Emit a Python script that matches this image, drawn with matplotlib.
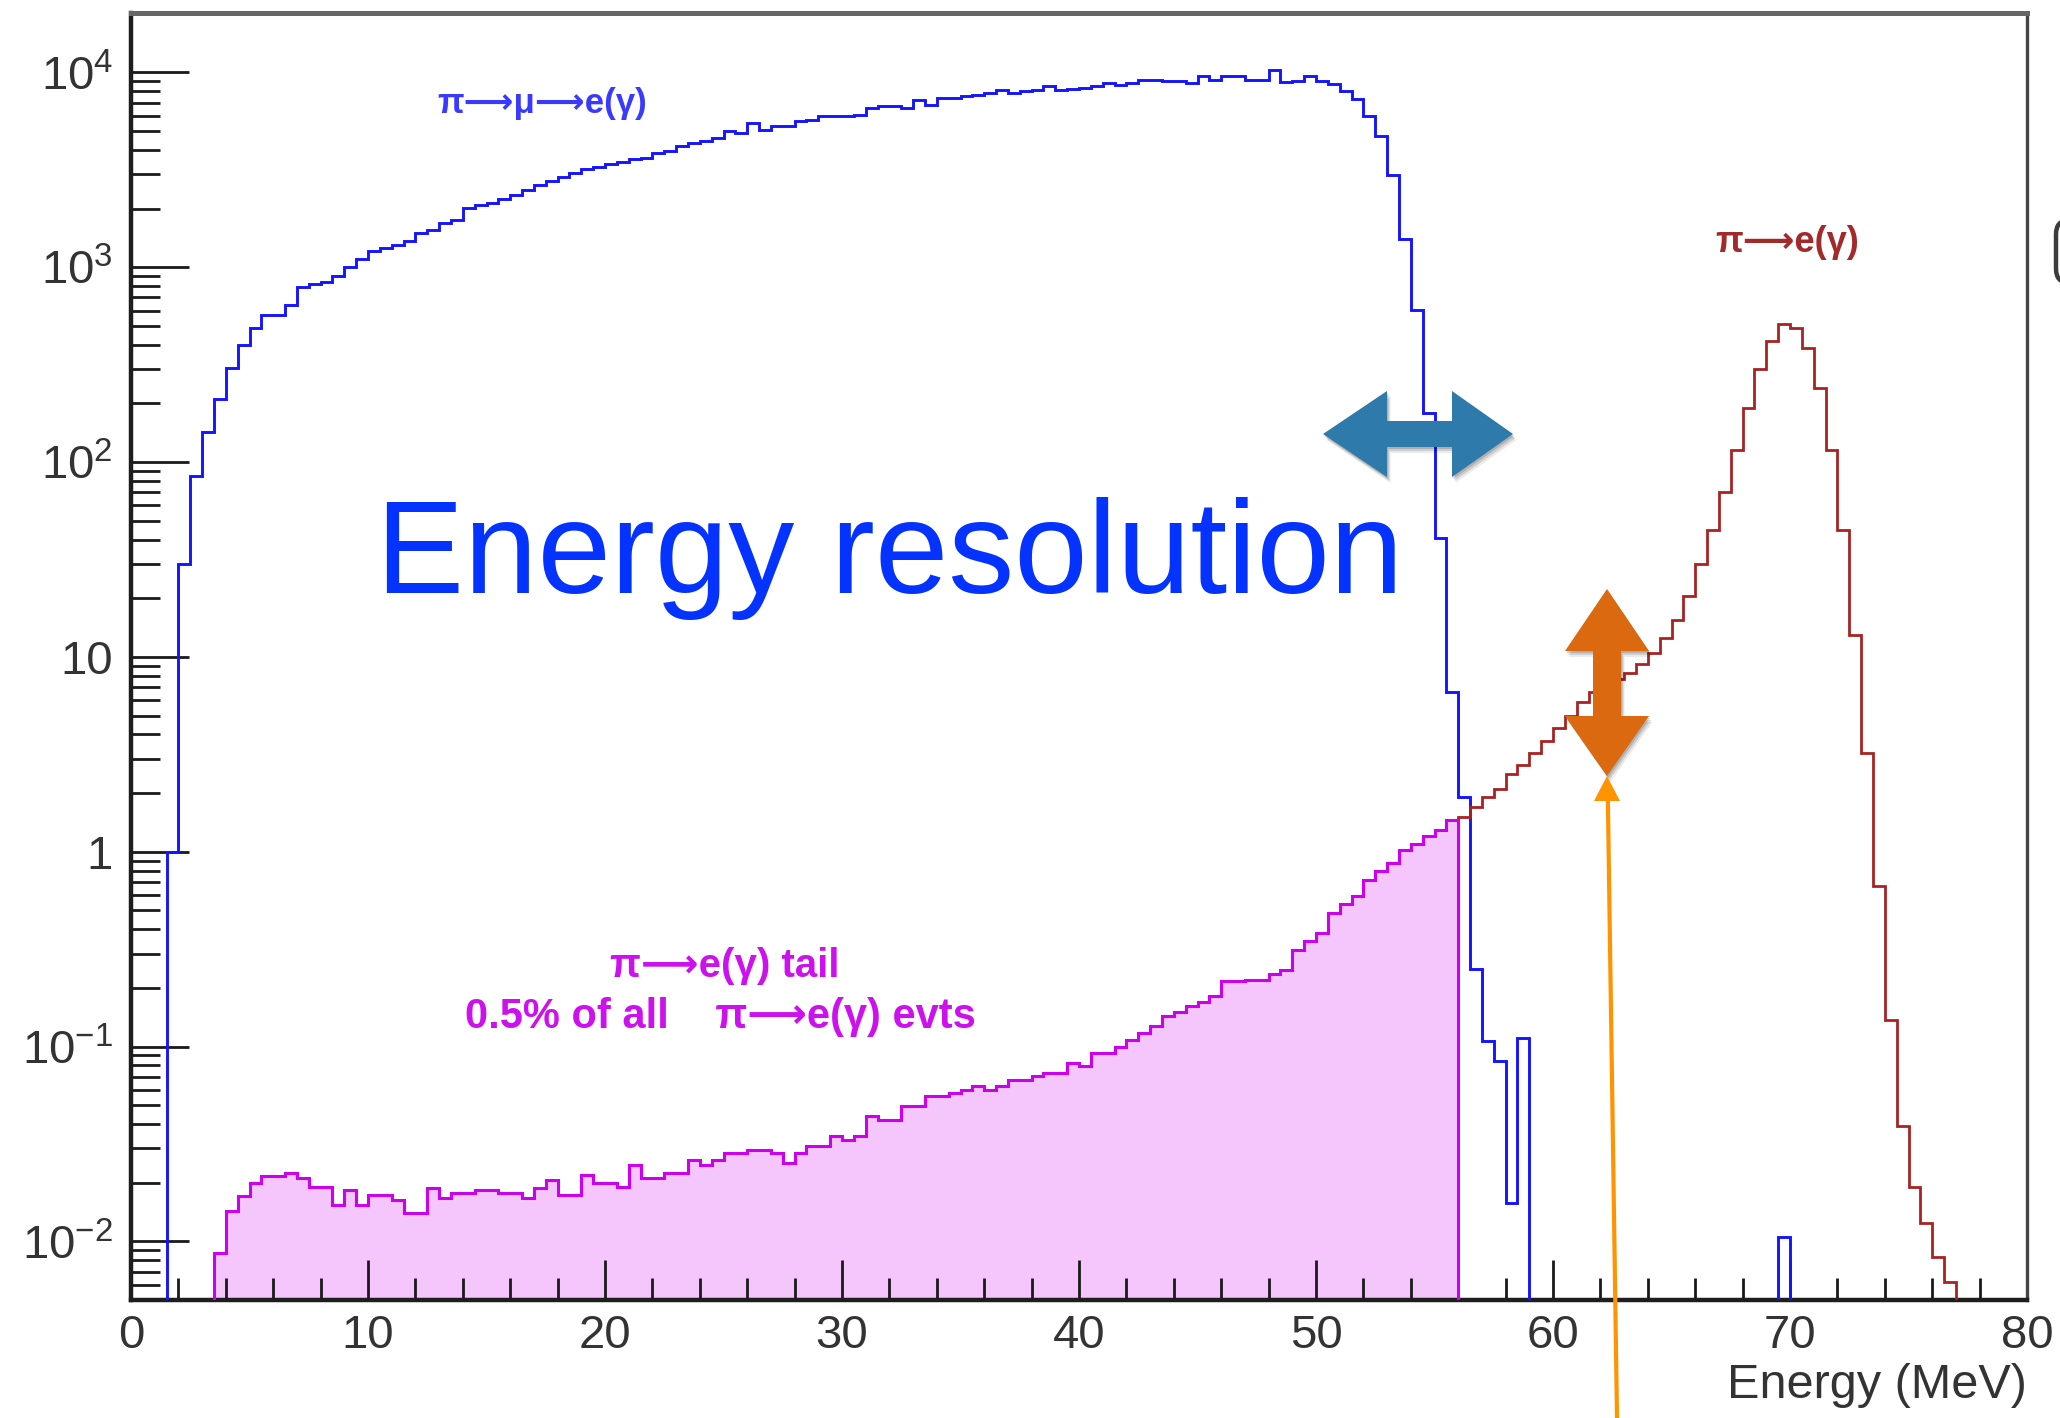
import numpy as np
import matplotlib.pyplot as plt
from matplotlib.patches import Polygon, FancyBboxPatch
from matplotlib.lines import Line2D
from matplotlib.ticker import MultipleLocator, LogLocator, NullFormatter
from matplotlib.transforms import IdentityTransform

plt.rcParams['font.family'] = ['Liberation Sans', 'DejaVu Sans']
plt.rcParams['mathtext.fontset'] = 'custom'
plt.rcParams['mathtext.rm'] = 'Liberation Sans'
plt.rcParams['mathtext.it'] = 'Liberation Sans:italic'
plt.rcParams['mathtext.bf'] = 'Liberation Sans:bold'

W, H = 2060, 1418
BIN = 0.5  # MeV per bin

# pi -> mu -> e(gamma), 0.5 MeV bins starting at 1.5 MeV
mu_start = 1.5
mu_counts = [1.0, 30, 85, 143, 211, 303, 397, 490, 570, 570,
             643, 795, 820, 845, 897, 1000, 1100, 1213, 1250, 1300,
             1368, 1497, 1550, 1689, 1750, 2023, 2080, 2150, 2250, 2353,
             2500, 2654, 2780, 2904, 3050, 3183, 3280, 3380, 3480, 3590,
             3640, 3860, 3940, 4180, 4350, 4430, 4610, 4990, 4890, 5500,
             5090, 5290, 5330, 5610, 5720, 5960, 5960, 5960, 6070, 6570,
             6700, 6700, 6570, 7250, 6840, 7390, 7390, 7540, 7690, 7850,
             8160, 7850, 8000, 8160, 8490, 8160, 8230, 8320, 8490, 8830,
             8650, 8830, 9190, 9190, 9000, 9000, 8830, 9550, 9190, 9630,
             9550, 9190, 9190, 10330, 8900, 9000, 9550, 9000, 8700, 8000,
             7300, 6000, 4700, 2990, 1390, 606, 179, 41, 6.6, 1.9,
             0.25, 0.107, 0.084, 0.0158, 0.111]
# lone entry near 70 MeV
mu_stray_start = 69.5
mu_stray_counts = [0.0105]

# pi -> e(gamma) peak
e_start = 56.0
e_counts = [1.5, 1.7, 1.9, 2.1, 2.5, 2.8, 3.2, 3.7, 4.3, 5.0,
            5.9, 6.6, 7.2, 7.7, 8.3, 9.2, 10.5, 12.5, 15.5, 20.5,
            30, 45, 70, 115, 190, 300, 420, 511, 490, 387,
            239, 116, 44.7, 12.9, 3.2, 0.67, 0.137, 0.039, 0.019, 0.0124,
            0.0083, 0.0062]

# pi -> e(gamma) low energy tail
tail_start = 3.5
tail_counts = [0.0087, 0.0143, 0.0170, 0.0199, 0.0216, 0.0216, 0.0224, 0.0211, 0.0191, 0.0191,
               0.0154, 0.0184, 0.0154, 0.0173, 0.0173, 0.0164, 0.0140, 0.0140, 0.0188, 0.0167,
               0.0177, 0.0177, 0.0184, 0.0184, 0.0177, 0.0177, 0.0167, 0.0188, 0.0207, 0.0173,
               0.0173, 0.0220, 0.0199, 0.0199, 0.0191, 0.0247, 0.0211, 0.0211, 0.0224, 0.0224,
               0.0262, 0.0247, 0.0262, 0.0284, 0.0284, 0.0295, 0.0295, 0.0284, 0.0252, 0.0284,
               0.0307, 0.0307, 0.0346, 0.0333, 0.0346, 0.0438, 0.0421, 0.0421, 0.0493, 0.0493,
               0.0555, 0.0555, 0.0577, 0.0600, 0.0624, 0.0600, 0.0624, 0.0675, 0.0675, 0.0703,
               0.0731, 0.0731, 0.0823, 0.0791, 0.0925, 0.0925, 0.100, 0.108, 0.118, 0.127,
               0.143, 0.150, 0.161, 0.170, 0.181, 0.216, 0.216, 0.220, 0.220, 0.235,
               0.248, 0.314, 0.35, 0.382, 0.484, 0.54, 0.590, 0.718, 0.80, 0.875,
               1.02, 1.10, 1.20, 1.30, 1.46]

xticks = [0, 10, 20, 30, 40, 50, 60, 70, 80]
yticks = [1e-2, 1e-1, 1, 10, 1e2, 1e3, 1e4]
ytick_labels = [r'$10^{-2}$', r'$10^{-1}$', '1', '10', r'$10^{2}$', r'$10^{3}$', r'$10^{4}$']


def edges(start, counts):
    return start + BIN * np.arange(len(counts) + 1)


def fx(x):
    return x / W


def fy(y):
    return 1 - y / H


def px(pts):
    # pixel coords measured from top-left -> display coords
    return [(x, H - y) for x, y in pts]


fig = plt.figure(figsize=(W / 100, H / 100), dpi=100)
ax = fig.add_axes([fx(131), fy(1300), (2027 - 131) / W, (1300 - 13) / H])
ax.set_yscale('log')
ax.set_xlim(0, 80)
ax.set_ylim(5e-3, 2.02e4)

floor = 1e-4
ax.stairs(tail_counts, edges(tail_start, tail_counts), baseline=floor, fill=True,
          color='#f4c6fb', zorder=1)
ax.stairs(mu_counts, edges(mu_start, mu_counts), baseline=floor,
          color='#1414ff', lw=2.1, zorder=4)
ax.stairs(mu_stray_counts, edges(mu_stray_start, mu_stray_counts), baseline=floor,
          color='#1414ff', lw=2.1, zorder=4)
ax.stairs(e_counts, edges(e_start, e_counts), baseline=floor,
          color='#a82222', lw=2.0, zorder=4)
ax.stairs(tail_counts, edges(tail_start, tail_counts), baseline=floor,
          color='#cc00ee', lw=2.2, zorder=5)

# axes frame, ROOT look
ax.set_xticks(xticks)
ax.xaxis.set_minor_locator(MultipleLocator(2))
ax.set_yticks(yticks)
ax.set_yticklabels(ytick_labels)
ax.yaxis.set_minor_locator(LogLocator(base=10, subs=np.arange(2, 10), numticks=30))
ax.yaxis.set_minor_formatter(NullFormatter())
ax.tick_params(axis='both', which='both', direction='in', color='#1a1a1a',
               labelcolor='#333333', labelsize=34, top=False, right=False, width=2.0)
ax.tick_params(axis='x', which='major', length=29, pad=10)
ax.tick_params(axis='x', which='minor', length=16)
ax.tick_params(axis='y', which='major', length=42, pad=13)
ax.tick_params(axis='y', which='minor', length=21)
for s in ['left', 'bottom']:
    ax.spines[s].set_linewidth(3.2)
    ax.spines[s].set_color('#1e1e1e')
ax.spines['right'].set_linewidth(2.4)
ax.spines['right'].set_color('#444444')
ax.spines['top'].set_linewidth(3.6)
ax.spines['top'].set_color('#666666')

ax.set_xlabel('Energy (MeV)', fontsize=35, color='#333333', loc='right')
ax.xaxis.set_label_coords(1.0, -0.049)

# labels inside the plot
fam = ['Liberation Sans', 'DejaVu Sans']
fig.text(fx(542), fy(103), 'π⟶μ⟶e(γ)', color='#3a3aff', fontsize=25, family=fam,
         fontweight='bold', ha='center', va='center')
fig.text(fx(1787), fy(243), 'π⟶e(γ)', color='#a32a2a', fontsize=26, family=fam,
         fontweight='bold', ha='center', va='center')
fig.text(fx(725), fy(966), 'π⟶e(γ) tail', color='#cc11ee', fontsize=29, family=fam,
         fontweight='bold', ha='center', va='center')
fig.text(fx(720), fy(1017), '0.5% of all    π⟶e(γ) evts', color='#cc11ee', fontsize=30,
         family=fam, fontweight='bold', ha='center', va='center')
fig.text(fx(376), fy(593), 'Energy resolution', color='#0433ff', fontsize=95,
         ha='left', va='baseline')

# block arrows (slide overlay)
ident = IdentityTransform()
h_arrow = [(1323, 434), (1387, 391), (1387, 421), (1452, 421), (1452, 391), (1513, 434),
           (1452, 477), (1452, 447), (1387, 447), (1387, 477)]
v_arrow = [(1607, 589), (1649, 651), (1621, 651), (1621, 716), (1649, 716), (1607, 776),
           (1565, 716), (1593, 716), (1593, 651), (1565, 651)]
for pts, col in [(h_arrow, '#2e7aab'), (v_arrow, '#da6910')]:
    for d, a in [(6, 0.08), (4, 0.12), (2, 0.15)]:
        shadow = [(x + d * 0.6, y + d) for x, y in pts]
        fig.add_artist(Polygon(px(shadow), closed=True, fc='black', ec='none',
                               alpha=a, transform=ident))
    fig.add_artist(Polygon(px(pts), closed=True, fc=col, ec='none', transform=ident))

# thin orange pointer
fig.add_artist(Line2D([1617, 1607.8], [H - 1418, H - 795], color='#ff9300', lw=3.0,
                      transform=ident))
fig.add_artist(Polygon(px([(1607, 776), (1620, 801), (1594, 801)]), closed=True,
                       fc='#ff9300', ec='none', transform=ident))

# clipped object at the right border
fig.add_artist(FancyBboxPatch((2056, H - 283), 60, 63,
                              boxstyle='round,pad=0,rounding_size=14',
                              fc='white', ec='#3c3c3c', lw=3.2, transform=ident))

fig.savefig('out.png', dpi=100)
